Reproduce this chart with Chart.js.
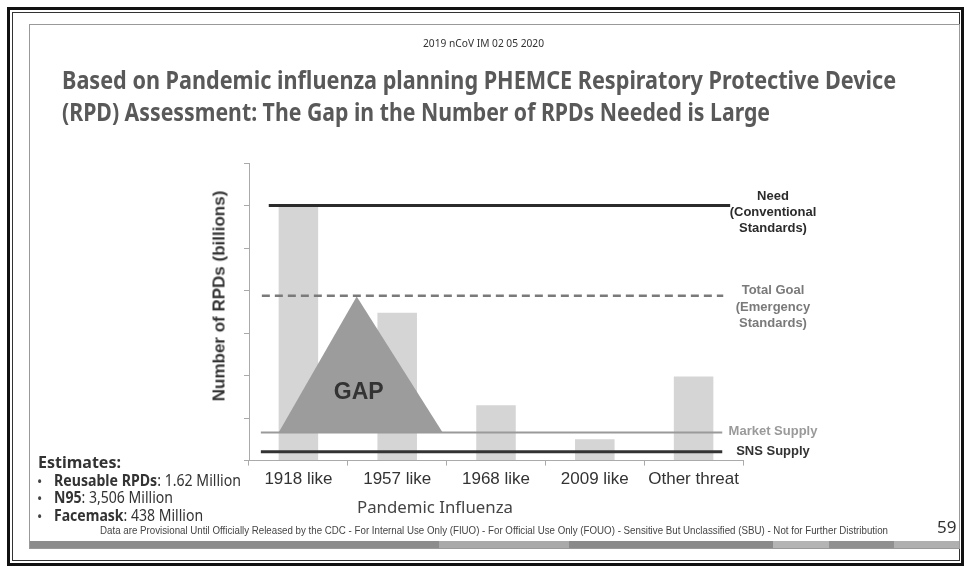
<!DOCTYPE html>
<html>
<head>
<meta charset="utf-8">
<script src="https://cdn.jsdelivr.net/npm/chart.js@4.4.1/dist/chart.umd.min.js"></script>
<style>
  html, body { margin: 0; padding: 0; background: #fff; }
  #page { position: relative; width: 967px; height: 567px; overflow: hidden; background: #fff; }
  #page canvas { position: absolute; left: 0; top: 0; }
  .txt { position: absolute; white-space: nowrap; line-height: 1; transform-origin: 0 50%; }
  .frame-outer { position: absolute; left: 7px; top: 7px; width: 951px; height: 553px; border: 3px solid #111; }
  .frame-inner { position: absolute; left: 12px; top: 12px; width: 946px; height: 547px; border: 1px solid #333; }
  .slide { position: absolute; left: 29px; top: 24px; width: 929px; height: 523px; border: 1px solid #999; }
  .slide-bar { position: absolute; left: 30px; top: 541px; width: 929px; height: 7px;
    background: linear-gradient(to right, #8c8c8c 0 44%, #a9a9a9 44% 58%, #8a8a8a 58% 80%, #b4b4b4 80% 86%, #909090 86% 93%, #b0b0b0 93% 100%); }
  .sans { font-family: "Noto Sans", "Open Sans", sans-serif; }
  .arial { font-family: "Liberation Sans", Arial, sans-serif; }
</style>
</head>
<body>
<div id="page">
  <div class="frame-outer"></div>
  <div class="frame-inner"></div>
  <div class="slide"></div>
  <div class="slide-bar"></div>
  <canvas id="rpdChart" width="967" height="567"></canvas>

  <div class="txt sans" data-w="121" style="left:423px; top:38px; font-size:10px; color:#333;">2019 nCoV IM 02 05 2020</div>
  <div class="txt sans" data-w="834" style="left:62px; top:67px; font-size:25px; font-weight:bold; color:#595959;">Based on Pandemic influenza planning PHEMCE Respiratory Protective Device</div>
  <div class="txt sans" data-w="708" style="left:62px; top:99px; font-size:25px; font-weight:bold; color:#595959;">(RPD) Assessment: The Gap in the Number of RPDs Needed is Large</div>

  <div class="txt arial" style="left:219px; top:296px; font-size:17px; font-weight:bold; color:#333; transform-origin:50% 50%; transform: translate(-50%,-50%) rotate(-90deg);">Number of RPDs (billions)</div>
  <div class="txt sans" data-w="156" style="left:357px; top:498px; font-size:17px; color:#444;">Pandemic Influenza</div>

  <div class="txt sans" style="left:38px; top:454px; font-size:16px; font-weight:bold; color:#333;">Estimates:</div>
  <div class="txt sans" style="left:37px; top:475px; font-size:14px; color:#444;">•</div>
  <div class="txt sans" data-w="187" style="left:54px; top:472px; font-size:16px; color:#333;"><b>Reusable RPDs</b>: 1.62 Million</div>
  <div class="txt sans" style="left:37px; top:492px; font-size:14px; color:#444;">•</div>
  <div class="txt sans" data-w="119" style="left:54px; top:489px; font-size:16px; color:#333;"><b>N95</b>: 3,506 Million</div>
  <div class="txt sans" style="left:37px; top:510px; font-size:14px; color:#444;">•</div>
  <div class="txt sans" data-w="149" style="left:54px; top:507px; font-size:16px; color:#333;"><b>Facemask</b>: 438 Million</div>

  <div class="txt arial" data-w="788" style="left:100px; top:526px; font-size:10px; color:#444;">Data are Provisional Until Officially Released by the CDC - For Internal Use Only (FIUO) - For Official Use Only (FOUO) - Sensitive But Unclassified (SBU) - Not for Further Distribution</div>
  <div class="txt sans" style="left:937px; top:518px; font-size:17px; color:#333;">59</div>
</div>

<script>
// data (y in billions, axis ticks have no labels)
const categories = ['1918 like', '1957 like', '1968 like', '2009 like', 'Other threat'];
const rpdNeeded = [6.0, 3.48, 1.3, 0.5, 1.98];
const yTicks = [0, 1, 2, 3, 4, 5, 6, 7];

// reference levels: need, total goal, market supply, SNS supply
const refLevels = [6.0, 3.88, 0.66, 0.21];
const refFrom = [-0.30, -0.37, -0.38, -0.38];
const refTo = [4.37, 4.30, 4.29, 4.29];
const refText = [
    ['Need', '(Conventional', 'Standards)'],
    ['Total Goal', '(Emergency', 'Standards)'],
    ['Market Supply'],
    ['SNS Supply']
];

// the GAP triangle
const gapX = [-0.20, 0.59, 1.46];
const gapY = [0.66, 3.86, 0.66];

const refColors = ['#2b2b2b', '#7a7a7a', '#9a9a9a', '#333333'];
const refWidths = [3, 2.5, 2, 3];
const refDashes = [[], [8, 5], [], []];
const refTextOffsets = [[-9, 7, 23], [-5, 12, 28], [-1], [0]];

// shrink / stretch text boxes to the widths they have on the slide
document.querySelectorAll('.txt[data-w]').forEach(function(el) {
    const w = el.getBoundingClientRect().width;
    const target = parseFloat(el.dataset.w);
    if (w > 0) el.style.transform = 'scaleX(' + (target / w).toFixed(3) + ')';
});

const refLines = refLevels.map(function(level, i) {
    return {
        type: 'line',
        xAxisID: 'x2',
        data: [{ x: refFrom[i], y: level }, { x: refTo[i], y: level }],
        borderColor: refColors[i],
        borderWidth: refWidths[i],
        borderDash: refDashes[i],
        pointRadius: 0,
        fill: false,
        order: 0
    };
});

const slideLabels = {
    id: 'slideLabels',
    afterDatasetsDraw(chart) {
        const ctx = chart.ctx;
        const y = chart.scales.y;
        const x2 = chart.scales.x2;
        const cx = chart.chartArea.right + 30;
        ctx.save();
        ctx.textAlign = 'center';
        ctx.textBaseline = 'middle';
        ctx.font = 'bold 13px "Liberation Sans", Arial, sans-serif';
        refText.forEach(function(lines, i) {
            const py = y.getPixelForValue(refLevels[i]);
            ctx.fillStyle = refColors[i];
            lines.forEach(function(t, j) {
                ctx.fillText(t, cx, py + refTextOffsets[i][j]);
            });
        });
        // GAP label inside the triangle
        ctx.fillStyle = '#333';
        ctx.font = 'bold 23px "Liberation Sans", Arial, sans-serif';
        ctx.fillText('GAP', x2.getPixelForValue(gapX[1]) + 2,
            y.getPixelForValue(gapY[0] + (gapY[1] - gapY[0]) * 0.29));
        ctx.restore();
    }
};

new Chart(document.getElementById('rpdChart'), {
    type: 'bar',
    data: {
        labels: categories,
        datasets: [{
            label: 'RPDs needed',
            data: rpdNeeded,
            backgroundColor: '#d5d5d5',
            barPercentage: 0.4,
            categoryPercentage: 1,
            grouped: false,
            order: 2
        }, {
            type: 'line',
            label: 'GAP',
            xAxisID: 'x2',
            data: gapX.map(function(v, i) { return { x: v, y: gapY[i] }; }),
            backgroundColor: '#9c9c9c',
            borderWidth: 0,
            pointRadius: 0,
            tension: 0,
            fill: { value: gapY[0] },
            order: 1
        }].concat(refLines)
    },
    options: {
        responsive: false,
        animation: false,
        layout: { padding: { left: 244, top: 163, right: 224, bottom: 73 } },
        plugins: {
            legend: { display: false },
            tooltip: { enabled: false }
        },
        scales: {
            x: {
                grid: { offset: true, drawOnChartArea: false, tickLength: 5, color: '#aaa' },
                border: { color: '#aaa', width: 1, dash: [1, 1] },
                ticks: {
                    color: '#333',
                    padding: 4,
                    font: { family: '"Liberation Sans", Arial, sans-serif', size: 17 }
                }
            },
            x2: { type: 'linear', display: false, offset: false, min: -0.5, max: 4.5 },
            y: {
                min: yTicks[0],
                max: yTicks[yTicks.length - 1],
                afterBuildTicks: function(scale) {
                    scale.ticks = yTicks.map(function(v) { return { value: v }; });
                },
                grid: { drawOnChartArea: false, tickLength: 5, color: '#aaa' },
                border: { color: '#aaa', width: 1, dash: [1, 1] },
                ticks: { display: false }
            }
        }
    },
    plugins: [slideLabels]
});
</script>
</body>
</html>
